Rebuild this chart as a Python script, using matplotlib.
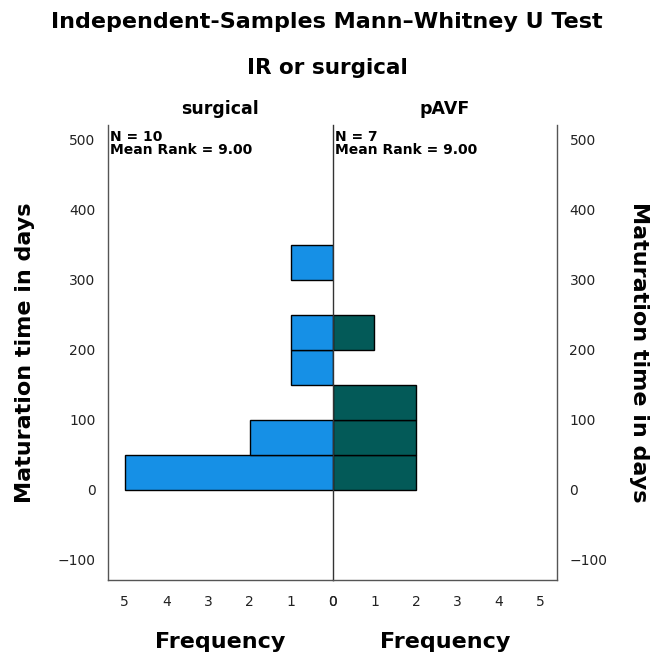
import matplotlib
matplotlib.use("Agg")
import matplotlib.pyplot as plt

bin_starts = [0, 50, 100, 150, 200, 250, 300]
bin_width = 50
surgical_counts = [5, 2, 0, 1, 1, 0, 1]
pavf_counts = [2, 2, 2, 0, 1, 0, 0]
groups = ["surgical", "pAVF"]
group_n = [10, 7]
mean_ranks = [9.00, 9.00]
y_ticks = [-100, 0, 100, 200, 300, 400, 500]
x_ticks = [0, 1, 2, 3, 4, 5]

plt.rcParams['font.family'] = ['DejaVu Sans']
fig = plt.figure(figsize=(6.54, 6.52), dpi=100)
W, H = 654, 652
def rect(x0, x1, y0, y1):
    return [x0 / W, 1 - y1 / H, (x1 - x0) / W, (y1 - y0) / H]

axL = fig.add_axes(rect(108, 333, 125, 580))
axR = fig.add_axes(rect(333, 557, 125, 580))

colors = ["#1690E6", "#035A58"]
spine_c = "#555555"
for ax, counts, color in [(axL, surgical_counts, colors[0]), (axR, pavf_counts, colors[1])]:
    nz = [(b, c) for b, c in zip(bin_starts, counts) if c > 0]
    ax.barh([b for b, c in nz], [c for b, c in nz], height=bin_width, align='edge',
            color=color, edgecolor='black', linewidth=1.0, zorder=2)
    ax.set_ylim(-128.6, 521)
    ax.set_xticks(x_ticks)
    ax.set_xticklabels([str(t) for t in x_ticks])
    ax.tick_params(length=0, labelsize=10, colors='#222222')
    ax.tick_params(axis='x', pad=11)
    ax.spines['top'].set_visible(False)
    for s in ax.spines.values():
        s.set_color(spine_c)
        s.set_linewidth(1.0)
    ax.set_xlabel("Frequency", fontsize=16, fontweight='bold', labelpad=16)

axL.set_xlim(5.4, 0)
axR.set_xlim(0, 5.4)
axL.spines['right'].set_visible(False)
axR.spines['left'].set_color('#333333')
axL.set_yticks(y_ticks)
axL.set_yticklabels([f"\u2212{abs(t)}" if t < 0 else str(t) for t in y_ticks])
axL.tick_params(axis='y', pad=9)
axR.set_yticks(y_ticks)
axR.set_yticklabels([f"\u2212{abs(t)}" if t < 0 else str(t) for t in y_ticks])
axR.yaxis.tick_right()
axR.tick_params(axis='y', pad=9)
axL.set_ylabel("Maturation time in days", fontsize=16, fontweight='bold', labelpad=16)
axR.yaxis.set_label_position('right')
axR.set_ylabel("Maturation time in days", fontsize=16, fontweight='bold', rotation=270, labelpad=30)

for ax, g, n, mr in [(axL, groups[0], group_n[0], mean_ranks[0]), (axR, groups[1], group_n[1], mean_ranks[1])]:
    ax.set_title(g, fontsize=12.5, fontweight='bold', pad=8)
    ax.text(0.01, 0.988, f"N = {n}\nMean Rank = {mr:.2f}", transform=ax.transAxes,
            ha='left', va='top', fontsize=10, fontweight='bold', linespacing=0.9)

fig.text(0.5, 1 - 22 / H, "Independent-Samples Mann\u2013Whitney U Test", ha='center', va='center',
         fontsize=16, fontweight='bold')
fig.text(0.5, 1 - 68 / H, "IR or surgical", ha='center', va='center', fontsize=15.5, fontweight='bold')

fig.savefig("out.png", dpi=100)
